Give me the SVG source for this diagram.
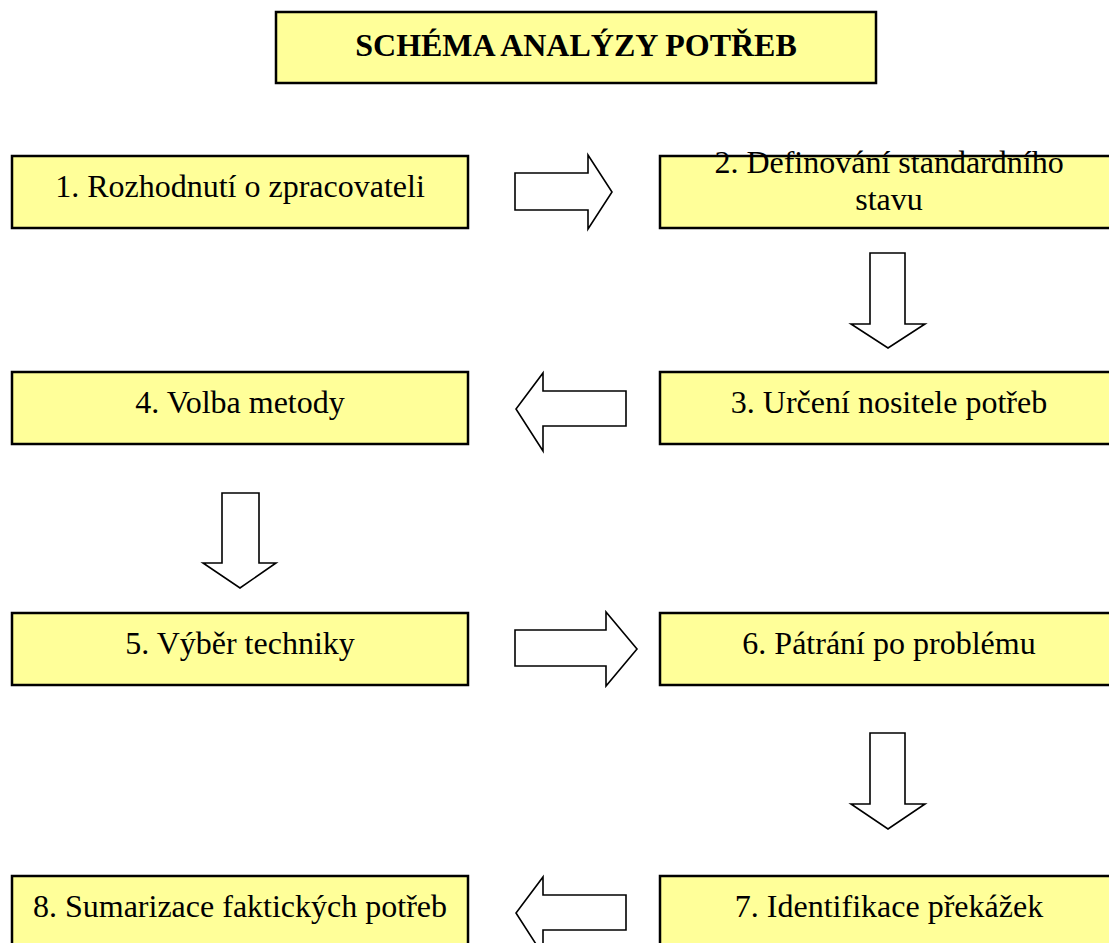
<svg xmlns="http://www.w3.org/2000/svg" width="1109" height="943" viewBox="0 0 1109 943">
<style>
.box{fill:#FFFF99;stroke:#000;stroke-width:2.5}
.t{font-family:"Liberation Serif","Times New Roman",serif;font-size:32px;fill:#000;text-anchor:middle}
.title{font-weight:bold}
.arr{fill:#fff;stroke:#000;stroke-width:1.6;stroke-linejoin:miter}
</style>
<rect width="1109" height="943" fill="#fff"/>
<g id="title">
<rect class="box" x="276" y="12" width="600" height="71"/>
<text class="t title" x="576" y="56">SCHÉMA ANALÝZY POTŘEB</text>
</g>
<g id="n1">
<rect class="box" x="12" y="156" width="456" height="72"/>
<text class="t" x="240" y="197">1. Rozhodnutí o zpracovateli</text>
</g>
<g id="n2">
<rect class="box" x="660" y="156" width="458" height="72"/>
<text class="t" x="889" y="173">2. Definování standardního</text>
<text class="t" x="889" y="210">stavu</text>
</g>
<g id="n3">
<rect class="box" x="660" y="372" width="458" height="72"/>
<text class="t" x="889" y="413">3. Určení nositele potřeb</text>
</g>
<g id="n4">
<rect class="box" x="12" y="372" width="456" height="72"/>
<text class="t" x="240" y="413">4. Volba metody</text>
</g>
<g id="n5">
<rect class="box" x="12" y="613" width="456" height="72"/>
<text class="t" x="240" y="654">5. Výběr techniky</text>
</g>
<g id="n6">
<rect class="box" x="660" y="613" width="458" height="72"/>
<text class="t" x="889" y="654">6. Pátrání po problému</text>
</g>
<g id="n7">
<rect class="box" x="660" y="876" width="458" height="72"/>
<text class="t" x="889" y="917">7. Identifikace překážek</text>
</g>
<g id="n8">
<rect class="box" x="12" y="876" width="456" height="72"/>
<text class="t" x="240" y="917">8. Sumarizace faktických potřeb</text>
</g>
<g id="connectors">
<polygon class="arr" points="515,173 588,173 588,155 612,192 588,229 588,210 515,210"/>
<polygon class="arr" points="870,253 905,253 905,324 925,324 888,348 851,324 870,324"/>
<polygon class="arr" points="626,391 543,391 543,373 516,409 543,451 543,426 626,426"/>
<polygon class="arr" points="222,493 259,493 259,563 276,563 240,588 203,563 222,563"/>
<polygon class="arr" points="515,630 606,630 606,612 637,649 606,686 606,666 515,666"/>
<polygon class="arr" points="870,733 905,733 905,804 925,804 888,829 851,804 870,804"/>
<polygon class="arr" points="626,895 543,895 543,877 516,913 543,955 543,930 626,930"/>
</g>
</svg>
